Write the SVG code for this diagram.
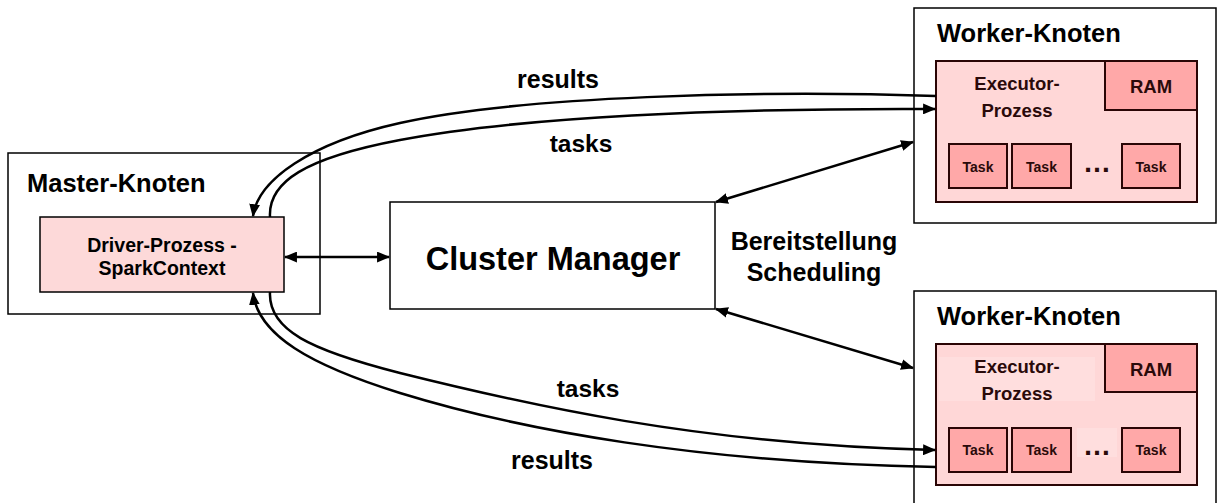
<svg xmlns="http://www.w3.org/2000/svg" width="1218" height="503" viewBox="0 0 1218 503">
<defs>
<style>
text{font-family:"Liberation Sans",Arial,sans-serif;font-weight:bold;fill:#000}
.outer{fill:#fff;stroke:#000;stroke-width:1.5}
.drv{fill:#FDD9D9;stroke:#000;stroke-width:1.5}
.exe{fill:#FFD7D7;stroke:#2a0505;stroke-width:2}
.dark{fill:#FFA8A8;stroke:#2a0505;stroke-width:2}
.in{fill:#2a0a0a}
.conn{fill:none;stroke:#000;stroke-width:2.5}
.m{text-anchor:middle}
</style>
<marker id="ah" viewBox="0 0 12 10" refX="11" refY="5" markerWidth="13" markerHeight="11" markerUnits="userSpaceOnUse" orient="auto-start-reverse">
<path d="M0,0 L12,5 L0,10 z" fill="#000"/>
</marker>
</defs>

<g id="master">
<rect class="outer" x="8" y="153" width="312" height="161"/>
<text x="27" y="192" font-size="25.5">Master-Knoten</text>
</g>
<g id="driver">
<rect class="drv" x="40" y="217" width="244" height="75"/>
<text class="m" x="162" y="252" font-size="19.5">Driver-Prozess -</text>
<text class="m" x="162" y="275" font-size="19.5">SparkContext</text>
</g>

<g id="cluster">
<rect class="outer" x="390" y="202" width="325" height="107"/>
<text class="m" x="553" y="270" font-size="32.5">Cluster Manager</text>
</g>

<g id="worker1">
<rect class="outer" x="914" y="8" width="302" height="215"/>
<text x="937" y="42" font-size="25.5">Worker-Knoten</text>
<rect class="exe" x="936" y="61" width="261" height="141"/>
<rect class="dark" x="1105" y="61" width="92" height="49"/>
<text class="m in" x="1151" y="93" font-size="18.5">RAM</text>
<text class="m in" x="1017" y="90" font-size="18.5">Executor-</text>
<text class="m in" x="1017" y="117" font-size="18.5">Prozess</text>
<rect class="dark" x="949" y="144" width="58" height="44"/>
<rect class="dark" x="1012" y="144" width="59" height="44"/>
<rect class="dark" x="1122" y="144" width="58" height="44"/>
<text class="m in" x="978" y="172" font-size="14">Task</text>
<text class="m in" x="1041.5" y="172" font-size="14">Task</text>
<text class="m in" x="1151" y="172" font-size="14">Task</text>
<text class="m in" x="1097" y="172" font-size="28">…</text>
</g>

<g id="worker2">
<rect class="outer" x="914" y="291" width="302" height="230"/>
<text x="937" y="325" font-size="25.5">Worker-Knoten</text>
<rect class="exe" x="936" y="344" width="261" height="141"/>
<rect x="939" y="357" width="156" height="44" fill="#FFDEDE"/>
<rect x="1077" y="428" width="40" height="29" fill="#FFDEDE"/>
<rect class="dark" x="1105" y="344" width="92" height="48"/>
<text class="m in" x="1151" y="376" font-size="18.5">RAM</text>
<text class="m in" x="1017" y="373" font-size="18.5">Executor-</text>
<text class="m in" x="1017" y="400" font-size="18.5">Prozess</text>
<rect class="dark" x="949" y="428" width="58" height="44"/>
<rect class="dark" x="1012" y="428" width="59" height="44"/>
<rect class="dark" x="1122" y="428" width="58" height="44"/>
<text class="m in" x="978" y="455" font-size="14">Task</text>
<text class="m in" x="1041.5" y="455" font-size="14">Task</text>
<text class="m in" x="1151" y="455" font-size="14">Task</text>
<text class="m in" x="1097" y="455" font-size="28">…</text>
</g>

<g id="connectors">
<path class="conn" d="M936,96 C760,90 520,96 400,123 C310,143 258,180 253,216" marker-end="url(#ah)"/>
<path class="conn" d="M270,217 C268,182 305,158 400,140 C520,117 720,108 935,109" marker-end="url(#ah)"/>
<path class="conn" d="M270,292 C268,330 310,350 400,373 C520,403 700,445 935,450" marker-end="url(#ah)"/>
<path class="conn" d="M936,467 C700,463 520,430 400,393 C310,365 258,335 253,293" marker-end="url(#ah)"/>
<path class="conn" d="M285,257 L389,257" marker-start="url(#ah)" marker-end="url(#ah)"/>
<path class="conn" d="M716,202 L913,142" marker-start="url(#ah)" marker-end="url(#ah)"/>
<path class="conn" d="M716,309 L913,368" marker-start="url(#ah)" marker-end="url(#ah)"/>
<text class="m" x="558" y="88" font-size="25">results</text>
<text class="m" x="581" y="152" font-size="24.5">tasks</text>
<text class="m" x="588" y="397" font-size="24.5">tasks</text>
<text class="m" x="552" y="469" font-size="25">results</text>
<text class="m" x="814" y="250" font-size="25">Bereitstellung</text>
<text class="m" x="814" y="281" font-size="25">Scheduling</text>
</g>
</svg>
